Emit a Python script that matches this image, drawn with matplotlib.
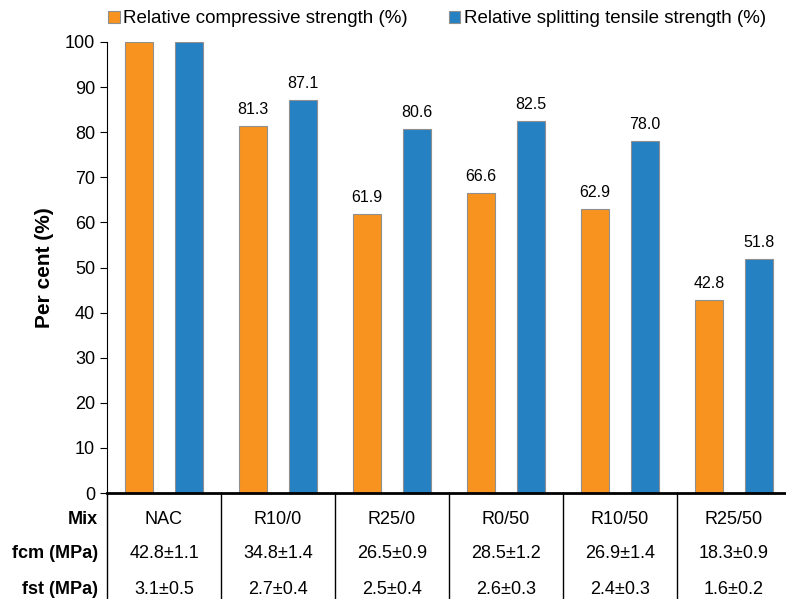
import matplotlib
matplotlib.use("Agg")
from matplotlib import pyplot as plt
from matplotlib.lines import Line2D

plt.rcParams['font.family'] = ['Liberation Sans', 'DejaVu Sans']

mixes = ["NAC", "R10/0", "R25/0", "R0/50", "R10/50", "R25/50"]
compressive = [100.0, 81.3, 61.9, 66.6, 62.9, 42.8]
tensile = [100.0, 87.1, 80.6, 82.5, 78.0, 51.8]
fcm = ["42.8±1.1", "34.8±1.4", "26.5±0.9", "28.5±1.2", "26.9±1.4", "18.3±0.9"]
fst = ["3.1±0.5", "2.7±0.4", "2.5±0.4", "2.6±0.3", "2.4±0.3", "1.6±0.2"]

orange = "#F7931E"
blue = "#2681C3"

fig = plt.figure(figsize=(7.86, 5.99), dpi=100)
ax = fig.add_axes([107/786, 1-493/599, 679/786, (493-42)/599])

x = [i + 0.5 for i in range(len(mixes))]
w = 0.245
b1 = ax.bar([v - 0.22 for v in x], compressive, w, color=orange, edgecolor="#909090", linewidth=0.8)
b2 = ax.bar([v + 0.22 for v in x], tensile, w, color=blue, edgecolor="#909090", linewidth=0.8)
for i in range(1, len(mixes)):
    ax.text(x[i] - 0.22, compressive[i] + 2, "%.1f" % compressive[i], ha="center", va="bottom", fontsize=11.5)
    ax.text(x[i] + 0.22, tensile[i] + 2, "%.1f" % tensile[i], ha="center", va="bottom", fontsize=11.5)

ax.set_xlim(0, 679/114)
ax.set_ylim(0, 100)
ax.set_yticks(range(0, 101, 10))
ax.tick_params(axis="y", labelsize=13, direction="out", length=5)
ax.set_xticks([])
ax.spines["top"].set_visible(False)
ax.spines["right"].set_visible(False)
ax.spines["bottom"].set_linewidth(2)
ax.set_ylabel("Per cent (%)", fontsize=15, fontweight="bold", labelpad=8)

# table under the axis
for i in range(len(mixes) + 1):
    fig.add_artist(Line2D([(107 + 114*i)/786]*2, [0, 1-493/599], color="black", linewidth=1))
rows = [("Mix", mixes, 520), ("fcm (MPa)", fcm, 553), ("fst (MPa)", fst, 589)]
for label, vals, yp in rows:
    fy = 1 - yp/599
    fig.text(98/786, fy, label, ha="right", va="center", fontsize=13, fontweight="bold")
    for i, v in enumerate(vals):
        fig.text((107 + 114*i + 57)/786, fy, v, ha="center", va="center", fontsize=13)

fig.legend([b1, b2], ["Relative compressive strength (%)", "Relative splitting tensile strength (%)"],
           loc="upper left", bbox_to_anchor=(98/786, 1.0), ncol=2, frameon=False, fontsize=13.5,
           handlelength=0.6, handleheight=0.6, handletextpad=0.2, columnspacing=2.2, borderaxespad=0.15)

fig.savefig("out.png", dpi=100)
